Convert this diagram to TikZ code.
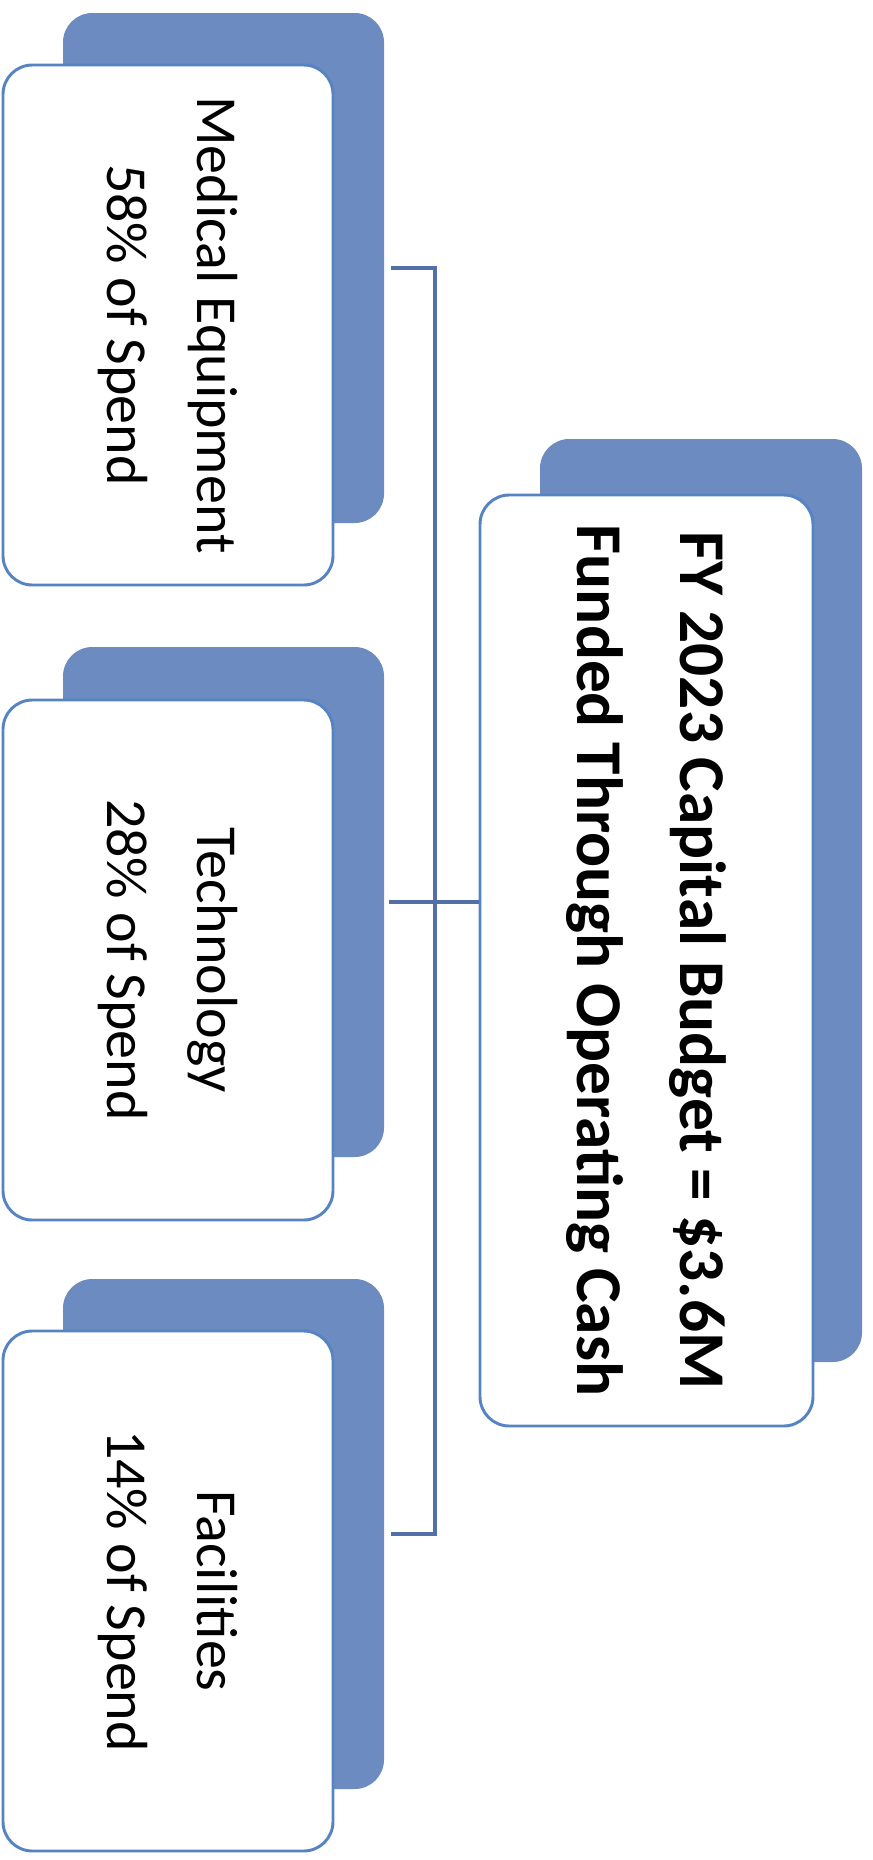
\documentclass[tikz,border=0pt]{standalone}
\usepackage{fontspec}
\setmainfont{Carlito}
\definecolor{backblue}{RGB}{108,139,192}
\definecolor{edgeblue}{RGB}{86,131,194}
\definecolor{linkblue}{RGB}{82,112,165}

\tikzset{every picture/.style={line width=0.75pt}}
\tikzset{
  backbox/.style={fill=backblue, draw=none, rounded corners=22pt, inner sep=0pt},
  frontbox/.style={fill=white, draw=edgeblue, line width=2.2pt, rounded corners=22pt,
    rotate=-90, align=center, inner sep=0pt, font=\fontsize{43.5}{67}\selectfont},
  capfont/.style={font=\bfseries\fontsize{49}{77}\selectfont},
  link/.style={draw=linkblue, line width=2.6pt}
}

\begin{document}
\begin{tikzpicture}[x=0.75pt,y=0.75pt,yscale=-1,xscale=1]
\useasboundingbox (0,0) rectangle (872,1860);

%Back Shapes
\node (medback) [backbox, minimum width=240.75pt, minimum height=382.5pt] at (223.5,268) {};
\node (techback) [backbox, minimum width=240.75pt, minimum height=382.5pt] at (223.5,902) {};
\node (facback) [backbox, minimum width=240.75pt, minimum height=382.5pt] at (223.5,1534) {};
\node (capback) [backbox, minimum width=241.5pt, minimum height=692.25pt] at (701,900.5) {};

%Front Shapes (rotated, so width runs down the page)
\node (medfront) [frontbox, minimum width=390pt, minimum height=247.5pt] at (168,325)
  {Medical Equipment\\58\% of Spend};
\node (techfront) [frontbox, minimum width=390pt, minimum height=247.5pt] at (168,960)
  {Technology\\28\% of Spend};
\node (facfront) [frontbox, minimum width=390pt, minimum height=247.5pt] at (168,1591)
  {Facilities\\14\% of Spend};
\node (capfront) [frontbox, capfont, minimum width=698.25pt, minimum height=249.75pt] at (646.5,960.5)
  {FY 2023 Capital Budget = \$3.6M\\Funded Through Operating Cash};

%Connector Lines
\coordinate (bus) at (435,268);
\draw [link] ([xshift=5pt]medback.east) -- (medback.east -| bus) -- (facback.east -| bus) -- ([xshift=5pt]facback.east);
\draw [link] ([xshift=3pt]techback.east) -- (techback.east -| capfront.south);

\end{tikzpicture}
\end{document}
